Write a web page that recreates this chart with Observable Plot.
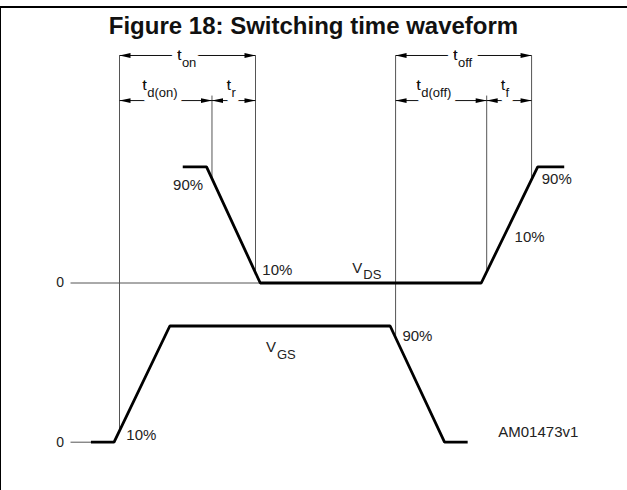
<!DOCTYPE html>
<html>
<head>
<meta charset="utf-8">
<script src="https://cdn.jsdelivr.net/npm/d3@7"></script>
<script src="https://cdn.jsdelivr.net/npm/@observablehq/plot@0.6"></script>
<style>
  body { margin: 0; background: #fff; }
  #fig { position: relative; width: 627px; height: 490px; overflow: hidden; font-family: "Liberation Sans", Arial, sans-serif; }
  #fig svg { position: absolute; left: 0; top: 0; }
  #frame { position: absolute; left: 0; top: 6px; width: 627px; height: 484px; border-top: 2px solid #000; border-left: 1px solid #000; box-sizing: border-box; pointer-events: none; }
  #title { position: absolute; left: 0; top: 14px; width: 627px; text-align: center; font-weight: bold; font-size: 24px; line-height: 24px; color: #111; }
  g[aria-label="pct"] text, g[aria-label="source"] text { letter-spacing: 1.2px; }
</style>
</head>
<body>
<div id="fig"><div id="title">Figure 18: Switching time waveform</div></div>
<script>
// ---- waveforms: time (arbitrary units) and level (fraction of full swing)
const vdsTime  = [9.3, 12.8, 20.7, 53.2, 61.5, 65.4];
const vdsLevel = [1, 1, 0, 0, 1, 1];
const vgsTime  = [-4.2, -0.8, 7.4, 39.8, 47.8, 51.2];
const vgsLevel = [0, 0, 1, 1, 0, 0];

// ---- switching-time markers (vertical construction lines)
const markerTime    = [0, 13.6, 20, 40.6, 54.0, 60.6];
const markerChannel = ["VGS", "VDS", "VDS", "VGS", "VDS", "VDS"];
const markerPct     = [0.1, 0.9, 0.1, 0.9, 0.1, 0.9];
const markerRow     = [1, 2, 1, 1, 2, 1];

// ---- interval annotations t_on, t_d(on), t_r, t_off, t_d(off), t_f
const spanSub     = ["on", "d(on)", "r", "off", "d(off)", "f"];
const spanStart   = [0, 0, 13.6, 40.6, 40.6, 54.0];
const spanEnd     = [20, 13.6, 20, 60.6, 54.0, 60.6];
const spanRow     = [1, 2, 2, 1, 2, 2];
const spanLabelAt = [9.1, 4.0, 16.4, 49.7, 44.3, 56.7];

// ---- percentage labels
const pctText    = ["90%", "10%", "10%", "90%", "90%", "10%"];
const pctTime    = [12.3, 21.0, 58.1, 62.1, 41.6, 1.0];
const pctChannel = ["VDS", "VDS", "VDS", "VDS", "VGS", "VGS"];
const pctLevel   = [0.80, 0.065, 0.357, 0.848, 0.875, 0.021];
const pctAnchor  = ["end", "start", "start", "start", "start", "start"];

// ---- channel names
const chanName  = ["VDS", "VGS"];
const chanSub   = ["DS", "GS"];
const chanTime  = [35.7, 23.0];
const chanLevel = [0.09, 0.775];

const zeroLabel = "0";
const sourceId = "AM01473v1";
const sourceTime = 55.7, sourceLevel = 0.049;

// ---- layout constants (vertical placement of the two traces and annotation rows)
const offset = {VDS: 1.37, VGS: 0};
const rowLevel = {1: 3.328, 2: 2.94};
const rowLabelLevel = {1: 3.293, 2: 3.027};
const splitTop = 2.983;
const zeroStart = -7.2;

// ---- build tables
const vds = vdsTime.map((t, i) => ({t, v: vdsLevel[i] + offset.VDS}));
const vgs = vgsTime.map((t, i) => ({t, v: vgsLevel[i] + offset.VGS}));
const firstZero = (T, L) => T[L.findIndex(v => v === 0)];
const zeros = [
  {ch: "VDS", x1: zeroStart, x2: firstZero(vdsTime, vdsLevel), y: offset.VDS},
  {ch: "VGS", x1: zeroStart, x2: firstZero(vgsTime, vgsLevel), y: offset.VGS}
];
const markers = markerTime.map((t, i) => ({
  t,
  y1: markerRow[i] === 1 ? rowLevel[1] : splitTop,
  y2: offset[markerChannel[i]] + markerPct[i]
}));
const spans = spanSub.map((s, i) => ({sub: s, a: spanStart[i], b: spanEnd[i], y: rowLevel[spanRow[i]], ly: rowLabelLevel[spanRow[i]], at: spanLabelAt[i]}));
const heads = spans.flatMap(s => [{t: s.a, y: s.y, r: -90}, {t: s.b, y: s.y, r: 90}]);
const pcts = pctText.map((s, i) => ({s, t: pctTime[i], y: offset[pctChannel[i]] + pctLevel[i], anchor: pctAnchor[i]}));
const chans = chanName.map((c, i) => ({sub: chanSub[i], t: chanTime[i], y: offset[c] + chanLevel[i]}));

const pctOpts = {x: "t", y: "y", text: "s", lineAnchor: "bottom", fontSize: 15, fill: "#222", ariaLabel: "pct"};

const plot = Plot.plot({
  width: 627,
  height: 490,
  margin: 0,
  x: {domain: [0, 20], range: [119, 255], axis: null},
  y: {domain: [0, 1], range: [441.7, 325.5], axis: null},
  style: {background: "transparent", fontFamily: "'Liberation Sans', Arial, sans-serif", overflow: "visible"},
  marks: [
    // zero reference stubs
    Plot.link(zeros, {x1: "x1", x2: "x2", y1: "y", y2: "y", stroke: "#555", strokeWidth: 1}),
    Plot.text(zeros, {x: "x1", y: "y", text: () => zeroLabel, textAnchor: "end", dx: -6.5, fontSize: 14, fill: "#222"}),
    // construction lines
    Plot.link(markers, {x1: "t", x2: "t", y1: "y1", y2: "y2", stroke: "#555", strokeWidth: 1}),
    // dimension lines
    Plot.link(spans, {x1: "a", x2: "b", y1: "y", y2: "y", stroke: "#111", strokeWidth: 1}),
    Plot.text(spans, {x: "at", y: "ly", text: () => "t", textAnchor: "end", lineAnchor: "bottom", fontSize: 15, fill: "#111", stroke: "white", strokeWidth: 12}),
    Plot.text(spans, {x: "at", y: "ly", text: "sub", textAnchor: "start", lineAnchor: "bottom", dy: 7, dx: 0.5, fontSize: 13, fill: "#111", stroke: "white", strokeWidth: 12}),
    Plot.text(spans, {x: "at", y: "ly", text: () => "t", textAnchor: "end", lineAnchor: "bottom", fontSize: 15, fill: "#111"}),
    Plot.vector(heads, {x: "t", y: "y", rotate: "r", length: 11, r: 2.4, shape: "spike", anchor: "end", fill: "#000", stroke: "none"}),
    // waveforms
    Plot.line(vds, {x: "t", y: "v", stroke: "#000", strokeWidth: 2.8, strokeLinejoin: "miter", strokeLinecap: "butt"}),
    Plot.line(vgs, {x: "t", y: "v", stroke: "#000", strokeWidth: 2.8, strokeLinejoin: "miter", strokeLinecap: "butt"}),
    // labels
    Plot.text(pcts, {...pctOpts, filter: d => d.anchor === "end", textAnchor: "end"}),
    Plot.text(pcts, {...pctOpts, filter: d => d.anchor === "start", textAnchor: "start"}),
    Plot.text(chans, {x: "t", y: "y", text: () => "V", textAnchor: "end", lineAnchor: "bottom", fontSize: 15, fill: "#222"}),
    Plot.text(chans, {x: "t", y: "y", text: "sub", textAnchor: "start", lineAnchor: "bottom", dy: 6.5, dx: 1, fontSize: 13, fill: "#222"}),
    Plot.text([sourceId], {x: () => sourceTime, y: () => sourceLevel, text: d => d, textAnchor: "start", lineAnchor: "bottom", fontSize: 15, fill: "#222", ariaLabel: "source"})
  ]
});
const fig = document.getElementById("fig");
fig.insertBefore(plot, fig.firstChild);
const frame = document.createElement("div");
frame.id = "frame";
fig.appendChild(frame);
</script>
</body>
</html>
